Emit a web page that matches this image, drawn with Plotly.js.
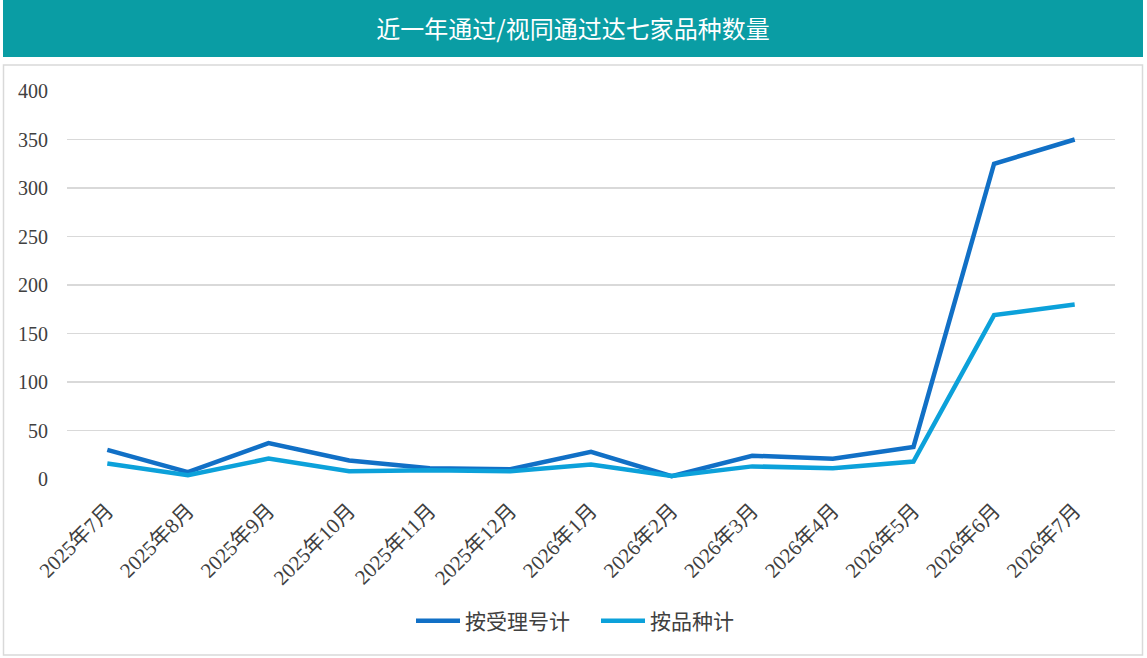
<!DOCTYPE html>
<html>
<head>
<meta charset="utf-8">
<script src="https://cdn.plot.ly/plotly-3.0.1.min.js"></script>
<style>html,body{margin:0;padding:0;background:#fff;}#chart{width:1147px;height:658px;}</style>
</head>
<body>
<div id="chart"></div>
<script>
const categories = ["2025年7月","2025年8月","2025年9月","2025年10月","2025年11月","2025年12月","2026年1月","2026年2月","2026年3月","2026年4月","2026年5月","2026年6月","2026年7月"];
const byAcceptance = [30, 7, 37, 19, 11, 10, 28, 3, 24, 21, 33, 325, 350];
const byVariety = [16, 4, 21, 8, 9, 8, 15, 3, 13, 11, 18, 169, 180];
const seriesNames = ["按受理号计", "按品种计"];
const yTicks = [0, 50, 100, 150, 200, 250, 300, 350, 400];
const titleText = "近一年通过/视同通过达七家品种数量";

const W = 1147, H = 658;
const L = 67, R = 1115, T = 91, B = 479;
const pw = R - L, ph = B - T;
const px = x => (x - L) / pw;
const py = y => (B - y) / ph;

const fontStack = 'Liberation Serif, Noto Sans CJK SC, serif';

const traces = [
  {x: categories, y: byAcceptance, name: seriesNames[0], type: 'scatter', mode: 'lines',
   line: {color: '#1170C6', width: 4.5}},
  {x: categories, y: byVariety, name: seriesNames[1], type: 'scatter', mode: 'lines',
   line: {color: '#0CA1DA', width: 4.5}}
];

const layout = {
  width: W, height: H,
  margin: {l: L, r: W - R, t: T, b: H - B, pad: 0},
  paper_bgcolor: '#ffffff', plot_bgcolor: 'rgba(0,0,0,0)',
  showlegend: true,
  title: {text: titleText, x: 573 / W, xanchor: 'center', y: 1 - 30 / H, yanchor: 'middle',
          xref: 'container', yref: 'container',
          font: {family: 'Noto Sans CJK SC, sans-serif', size: 24, color: '#ffffff'}},
  xaxis: {type: 'category', tickangle: -45, showgrid: false, zeroline: false, showline: false,
          ticks: 'outside', ticklen: 10, tickcolor: 'rgba(0,0,0,0)',
          tickfont: {family: fontStack, size: 21, color: '#404040'},
          range: [-0.5, categories.length - 0.5], fixedrange: true},
  yaxis: {range: [0, 400], tickvals: yTicks, showgrid: true, gridcolor: '#d9d9d9', gridwidth: 1.5,
          zeroline: false, showline: false, ticks: 'outside', ticklen: 14, tickcolor: 'rgba(0,0,0,0)',
          tickfont: {family: fontStack, size: 20, color: '#404040'}, fixedrange: true},
  legend: {orientation: 'h', x: px(411), xanchor: 'left', y: py(621), yanchor: 'middle',
           font: {family: fontStack, size: 21, color: '#404040'}, itemwidth: 44, traceorder: 'normal',
           entrywidth: 126, entrywidthmode: 'pixels',
           bgcolor: 'rgba(0,0,0,0)'},
  shapes: [
    {type: 'rect', xref: 'paper', yref: 'paper', x0: px(3), x1: px(1143), y0: py(57), y1: py(0),
     fillcolor: '#0A9DA4', line: {width: 0}, layer: 'below'},
    {type: 'rect', xref: 'paper', yref: 'paper', x0: px(3.5), x1: px(1142.5), y0: py(655), y1: py(65),
     fillcolor: 'rgba(0,0,0,0)', line: {width: 1.5, color: '#d9d9d9'}, layer: 'below'}
  ]
};

Plotly.newPlot('chart', traces, layout, {displayModeBar: false, staticPlot: true});
</script>
</body>
</html>
